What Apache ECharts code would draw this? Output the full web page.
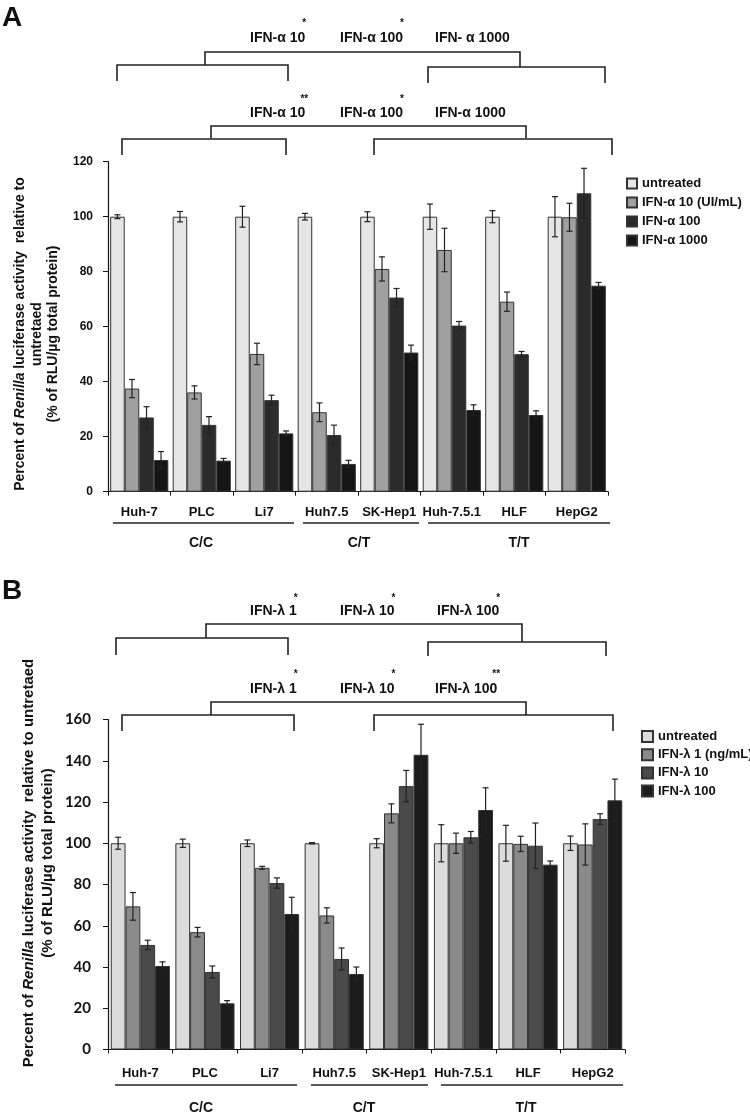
<!DOCTYPE html>
<html><head><meta charset="utf-8">
<script src="https://cdn.jsdelivr.net/npm/echarts@6/dist/echarts.min.js"></script>
<style>html,body{margin:0;padding:0;background:#fff}#c{width:750px;height:1113px}</style>
</head><body><div id="c"></div>
<script>
// ---------- data ----------
const cellLines = ['Huh-7','PLC','Li7','Huh7.5','SK-Hep1','Huh-7.5.1','HLF','HepG2'];
const genotypes = ['C/C','C/T','T/T'];
const yTicksA = [0,20,40,60,80,100,120];
const yTicksB = [0,20,40,60,80,100,120,140,160];

const alphaNames = ['untreated','IFN-α 10 (UI/mL)','IFN-α 100','IFN-α 1000'];
const alphaUntreated    = [100,100,100,100,100,100,100,100];
const alphaUntreatedErr = [0.7,1.9,3.8,1.2,1.8,4.6,2.2,7.3];
const alpha10           = [37.5,36.1,50.1,28.9,81.0,87.9,69.1,99.8];
const alpha10Err        = [3.3,2.4,3.9,3.4,4.4,7.9,3.5,5.1];
const alpha100          = [27.0,24.3,33.3,20.6,70.6,60.4,50.0,108.5];
const alpha100Err       = [3.9,3.0,1.8,3.6,3.3,1.5,1.0,9.1];
const alpha1000         = [11.5,11.3,21.2,10.1,50.6,29.7,27.9,74.9];
const alpha1000Err      = [3.1,0.8,0.9,1.3,2.7,1.9,1.5,1.2];

const lambdaNames = ['untreated','IFN-λ 1 (ng/mL)','IFN-λ 10','IFN-λ 100'];
const lambdaUntreated    = [100,100,100,100,100,100,100,100];
const lambdaUntreatedErr = [2.9,2.0,1.6,0.3,2.2,9.0,8.7,3.5];
const lambda1            = [69.4,56.9,88.1,65.0,114.5,100,99.7,99.4];
const lambda1Err         = [6.7,2.3,0.7,3.7,4.6,4.9,3.7,10.0];
const lambda10           = [50.7,37.6,80.7,43.9,127.7,102.9,98.8,111.7];
const lambda10Err        = [2.3,2.9,2.5,5.3,7.6,2.8,11.0,2.6];
const lambda100          = [40.5,22.4,65.7,36.6,142.9,116.1,89.6,120.8];
const lambda100Err       = [2.0,1.3,8.1,3.4,14.8,10.8,1.8,10.3];

const bracketAlpha1 = [['IFN-α 10','*'],['IFN-α 100','*'],['IFN- α 1000','']];
const bracketAlpha2 = [['IFN-α 10','**'],['IFN-α 100','*'],['IFN-α 1000','']];
const bracketLambda1 = [['IFN-λ 1','*'],['IFN-λ 10','*'],['IFN-λ 100','*']];
const bracketLambda2 = [['IFN-λ 1','*'],['IFN-λ 10','*'],['IFN-λ 100','**']];

// ---------- styles ----------
const FONT = '"Liberation Sans", Arial, Helvetica, sans-serif';
const NARROW = '"Liberation Sans Narrow", "Arial Narrow", Lato, sans-serif';
const colorsA = ['#e6e6e6','#a0a0a0','#2b2b2b','#151515'];
const colorsB = ['#dcdcdc','#8a8a8a','#4a4a4a','#1c1c1c'];
const gapA = 0.07, gapB = 0.085;

function barSeries(name, data, color, xi, gap) {
  return {
    type:'bar', name, data, xAxisIndex:xi, yAxisIndex:xi,
    barGap:'0%', barCategoryGap:(gap*100)+'%',
    itemStyle:{color, borderColor:'#333', borderWidth:1},
    silent:true, animation:false
  };
}
function errSeries(values, errs, k, xi, gap) {
  return {
    type:'custom', xAxisIndex:xi, yAxisIndex:xi, z:10, silent:true, animation:false,
    data: values.map((v,i)=>[i, v, v-errs[i], v+errs[i]]),
    encode:{x:0, y:[1,2,3]},
    renderItem(params, api){
      const i = api.value(0);
      const catW = api.size([1,0])[0];
      const bw = catW*(1-gap)/4;
      const cx = api.coord([i, api.value(1)])[0] + (k-1.5)*bw;
      const lo = api.coord([i, api.value(2)])[1];
      const hi = api.coord([i, api.value(3)])[1];
      const c = 3, st = {stroke:'#222', lineWidth:1.2};
      return {type:'group', children:[
        {type:'line', shape:{x1:cx,y1:lo,x2:cx,y2:hi}, style:st},
        {type:'line', shape:{x1:cx-c,y1:hi,x2:cx+c,y2:hi}, style:st},
        {type:'line', shape:{x1:cx-c,y1:lo,x2:cx+c,y2:lo}, style:st}
      ]};
    }
  };
}

const seriesA = [alphaUntreated, alpha10, alpha100, alpha1000];
const errA = [alphaUntreatedErr, alpha10Err, alpha100Err, alpha1000Err];
const seriesB = [lambdaUntreated, lambda1, lambda10, lambda100];
const errB = [lambdaUntreatedErr, lambda1Err, lambda10Err, lambda100Err];
const namesB = lambdaNames.map(n=>'B:'+n);

const series = [];
seriesA.forEach((d,k)=>series.push(barSeries(alphaNames[k], d, colorsA[k], 0, gapA)));
seriesB.forEach((d,k)=>series.push(barSeries(namesB[k], d, colorsB[k], 1, gapB)));
seriesA.forEach((d,k)=>series.push(errSeries(d, errA[k], k, 0, gapA)));
seriesB.forEach((d,k)=>series.push(errSeries(d, errB[k], k, 1, gapB)));

// ---------- graphics (annotations) ----------
const G = [];
const LS = {stroke:'#222', lineWidth:1.6, fill:null};
function poly(pts){ G.push({type:'polyline', shape:{points:pts}, style:LS, silent:true}); }
function txt(x,y,t,size,align,extra){
  G.push({type:'text', x, y, silent:true,
    style:Object.assign({text:t, font:'bold '+size+'px '+FONT, fill:'#111',
      textAlign:align||'left', textVerticalAlign:'middle'}, extra||{})});
}
function hline(x1,x2,y){ G.push({type:'line', shape:{x1,y1:y,x2,y2:y}, style:{stroke:'#222', lineWidth:1.6}, silent:true}); }
const _cv = document.createElement('canvas').getContext('2d');
function ctxWidth(t,size){ _cv.font='bold '+size+'px '+FONT; return _cv.measureText(t).width; }
function bracketRow(items, xs, y, starY){
  items.forEach((it,i)=>{
    txt(xs[i], y, it[0], 14);
    if (it[1]) txt(xs[i]+ctxWidth(it[0],14)-1, starY, it[1], 10, 'center');
  });
}

// Panel labels
txt(2, 18, 'A', 28);
txt(2, 591, 'B', 28);

// Panel A brackets
bracketRow(bracketAlpha1, [250,340,435], 38, 23);
poly([[205,65],[205,52],[520,52],[520,67]]);
poly([[117,81],[117,65],[288,65],[288,81]]);
poly([[428,83],[428,67],[605,67],[605,83]]);
bracketRow(bracketAlpha2, [250,340,435], 113, 99);
poly([[211,138],[211,126],[526,126],[526,138]]);
poly([[122,155],[122,139],[286,139],[286,155]]);
poly([[374,155],[374,139],[612,139],[612,155]]);

// Panel B brackets
bracketRow(bracketLambda1, [250,340,437], 611, 598);
poly([[206,638],[206,624],[522,624],[522,642]]);
poly([[116,655],[116,638],[288,638],[288,655]]);
poly([[428,656],[428,642],[606,642],[606,656]]);
bracketRow(bracketLambda2, [250,340,435], 689, 674);
poly([[211,715],[211,702],[526,702],[526,715]]);
poly([[122,731],[122,715],[294,715],[294,731]]);
poly([[374,731],[374,715],[613,715],[613,731]]);

// Genotype lines + labels
hline(113,294,523); hline(303,419,523); hline(428,610,523);
txt(201,543,genotypes[0],14,'center'); txt(359,543,genotypes[1],14,'center'); txt(519,543,genotypes[2],14,'center');
hline(115,297,1085); hline(311,428,1085); hline(441,623,1085);
txt(201,1108,genotypes[0],14,'center'); txt(364,1108,genotypes[1],14,'center'); txt(526,1108,genotypes[2],14,'center');

// Y axis titles (rotated rich text)
function yTitle(x,y,text,size,lh){
  G.push({type:'text', x, y, rotation:Math.PI/2, silent:true,
    style:{text, textAlign:'center', textVerticalAlign:'middle',
      rich:{n:{font:'bold '+size+'px '+FONT, fill:'#111', lineHeight:lh},
            i:{font:'italic bold '+size+'px '+FONT, fill:'#111', lineHeight:lh}}}});
}
yTitle(37, 334, '{n|Percent of }{i|Renilla}{n| luciferase activity  relative to}\n{n|untretaed}\n{n|(% of RLU/µg total protein)}', 14, 16.5);
yTitle(38, 863, '{n|Percent of }{i|Renilla}{n| luciferase activity  relative to untretaed}\n{n|(% of RLU/µg total protein)}', 15, 19);

const axisLine = {lineStyle:{color:'#111', width:1.2}};
const chart = echarts.init(document.getElementById('c'), null, {renderer:'canvas'});
chart.setOption({
  backgroundColor:'#fff',
  animation:false,
  grid:[
    {left:108, top:161.7, width:500, height:330},
    {left:108, top:719.5, width:517, height:330}
  ],
  xAxis:[
    {type:'category', gridIndex:0, data:cellLines, axisLine,
     axisTick:{show:true, length:4, lineStyle:{color:'#111'}},
     axisLabel:{interval:0, margin:14, fontFamily:FONT, fontWeight:'bold', fontSize:13, color:'#111'}},
    {type:'category', gridIndex:1, data:cellLines, axisLine,
     axisTick:{show:true, length:4, lineStyle:{color:'#111'}},
     axisLabel:{interval:0, margin:17, fontFamily:FONT, fontWeight:'bold', fontSize:13, color:'#111'}}
  ],
  yAxis:[
    {type:'value', gridIndex:0, min:yTicksA[0], max:yTicksA[yTicksA.length-1], interval:20,
     axisLine:Object.assign({show:true},axisLine), axisTick:{show:true, length:5, lineStyle:{color:'#111'}},
     splitLine:{show:false},
     axisLabel:{margin:15, fontFamily:FONT, fontWeight:'bold', fontSize:12, color:'#111'}},
    {type:'value', gridIndex:1, min:yTicksB[0], max:yTicksB[yTicksB.length-1], interval:20,
     axisLine:Object.assign({show:true},axisLine), axisTick:{show:true, length:5, lineStyle:{color:'#111'}},
     splitLine:{show:false},
     axisLabel:{margin:17, fontFamily:NARROW, fontWeight:'bold', fontSize:15, color:'#111'}}
  ],
  legend:[
    {data:alphaNames, orient:'vertical', left:621, top:172, itemWidth:10, itemHeight:10, itemGap:6,
     icon:'rect', selectedMode:false,
     textStyle:{fontFamily:FONT, fontWeight:'bold', fontSize:13, color:'#111'}},
    {data:namesB, orient:'vertical', left:636, top:725, itemWidth:11, itemHeight:11, itemGap:5.2,
     icon:'rect', selectedMode:false, formatter:n=>n.replace(/^B:/,''),
     textStyle:{fontFamily:FONT, fontWeight:'bold', fontSize:13, color:'#111'}}
  ],
  series,
  graphic:G
});
</script></body></html>
